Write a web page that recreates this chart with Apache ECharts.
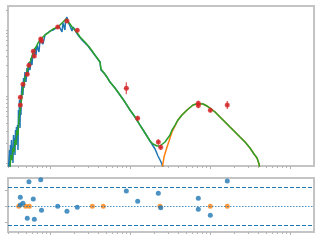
<!DOCTYPE html>
<html><head><meta charset="utf-8">
<script src="https://cdn.jsdelivr.net/npm/echarts@6/dist/echarts.min.js"></script>
<style>html,body{margin:0;padding:0;background:#fff}#c{width:320px;height:240px}</style>
</head><body><div id="c"></div>
<script>
// log10(wavelength / micron) and log10(flux) values
const starLogWave = [-1.519,-1.506,-1.5,-1.494,-1.488,-1.481,-1.475,-1.469,-1.463,-1.456,
-1.45,-1.444,-1.438,-1.431,-1.425,-1.419,-1.413,-1.406,-1.4,-1.394,
-1.388,-1.381,-1.375,-1.369,-1.363,-1.356,-1.35,-1.338,-1.331,-1.325,
-1.313,-1.3,-1.288,-1.275,-1.263,-1.25,-1.238,-1.225,-1.213,-1.2,
-1.188,-1.175,-1.163,-1.15,-1.138,-1.125,-1.1,-1.088,-1.063,-1.038,
-1.0,-0.963,-0.925,-0.888,-0.863,-0.85,-0.838,-0.825,-0.813,-0.806,
-0.8,-0.788,-0.775,-0.763,-0.75,-0.738,-0.725,-0.713,-0.688,-0.65,
-0.625,-0.6,-0.563,-0.525,-0.488,-0.45,-0.413,-0.375,-0.363,-0.325,
-0.288,-0.25,-0.188,-0.125,-0.063,0,0.063,0.125,0.188,0.25,
0.313,0.35,0.388,0.413];
const starLogFlux = [-13.075,-12.805,-13.075,-12.729,-12.955,-12.654,-12.925,-12.805,-13.0,-12.579,
-12.805,-12.624,-12.880,-12.504,-12.729,-12.459,-12.654,-12.429,-12.805,-12.203,
-12.429,-12.053,-12.474,-12.023,-12.278,-11.932,-11.827,-11.977,-11.722,-11.872,
-11.632,-11.782,-11.571,-11.677,-11.481,-11.602,-11.421,-11.526,-11.331,-11.421,
-11.271,-11.376,-11.226,-11.241,-11.331,-11.150,-11.120,-11.211,-11.075,-11.060,
-11.015,-11.0,-10.970,-10.940,-10.910,-11.030,-10.895,-10.880,-11.0,-10.850,
-10.820,-10.805,-10.880,-10.865,-10.940,-10.910,-11.015,-10.955,-11.0,-11.075,
-11.105,-11.150,-11.195,-11.241,-11.301,-11.361,-11.421,-11.481,-11.602,-11.647,
-11.707,-11.782,-11.872,-11.977,-12.083,-12.203,-12.308,-12.429,-12.549,-12.669,
-12.789,-12.895,-12.985,-13.060];

const dustLogWave = [0.4,0.413,0.425,0.444,0.463,0.488,0.525,0.563,0.6,0.65,0.713,0.788,0.85,0.913,0.963,1.0,1.063,1.125,1.188,1.25,1.313,1.375,1.438,1.5,1.55,1.588,1.613,1.625];
const dustLogFlux = [-13.105,-13.0,-12.910,-12.835,-12.759,-12.669,-12.534,-12.444,-12.353,-12.278,-12.203,-12.128,-12.105,-12.113,-12.143,-12.173,-12.233,-12.308,-12.383,-12.459,-12.534,-12.609,-12.684,-12.774,-12.865,-12.925,-13.015,-13.105];

const totalLogWave = [-1.5,-1.488,-1.475,-1.463,-1.45,-1.438,-1.425,-1.413,-1.4,-1.388,
-1.375,-1.363,-1.35,-1.338,-1.325,-1.313,-1.3,-1.288,-1.275,-1.263,
-1.25,-1.238,-1.225,-1.213,-1.2,-1.175,-1.15,-1.125,-1.1,-1.063,
-1.025,-1.0,-0.963,-0.925,-0.888,-0.85,-0.825,-0.8,-0.788,-0.775,
-0.75,-0.725,-0.688,-0.65,-0.625,-0.563,-0.5,-0.438,-0.375,-0.363,
-0.325,-0.288,-0.25,-0.188,-0.125,-0.063,0,0.063,0.125,0.188,
0.25,0.288,0.338,0.375,0.4,0.438,0.463,0.5,0.525,0.563,
0.6,0.65,0.713,0.788,0.85,0.913,0.963,1.0,1.063,1.125,
1.188,1.25,1.313,1.375,1.438,1.5,1.55,1.588,1.613,1.625];
const totalLogFlux = [-13.075,-12.880,-12.955,-12.774,-12.835,-12.654,-12.729,-12.504,-12.579,-12.323,
-12.233,-12.113,-11.977,-11.872,-11.812,-11.722,-11.692,-11.632,-11.571,-11.511,
-11.481,-11.451,-11.391,-11.361,-11.301,-11.256,-11.195,-11.150,-11.120,-11.075,
-11.045,-11.015,-10.985,-10.970,-10.940,-10.895,-10.865,-10.835,-10.820,-10.865,
-10.910,-10.955,-11.0,-11.060,-11.105,-11.180,-11.271,-11.376,-11.481,-11.586,
-11.647,-11.707,-11.782,-11.872,-11.977,-12.083,-12.203,-12.308,-12.429,-12.549,
-12.669,-12.714,-12.744,-12.744,-12.729,-12.684,-12.654,-12.579,-12.504,-12.429,
-12.353,-12.278,-12.203,-12.128,-12.105,-12.113,-12.143,-12.173,-12.233,-12.308,
-12.383,-12.459,-12.534,-12.609,-12.684,-12.774,-12.865,-12.925,-13.015,-13.105];

const photLogWave = [-1.371,-1.371,-1.338,-1.284,-1.263,-1.209,-1.196,-1.116,-1.106,-0.904,-0.788,-0.659,-0.046,0.096,0.354,0.384,0.854,0.854,1.004,1.216];
const photLogFlux = [-12.012,-12.128,-11.817,-11.666,-11.531,-11.320,-11.391,-11.135,-11.165,-10.955,-10.865,-11.005,-11.877,-12.328,-12.684,-12.764,-12.102,-12.135,-12.208,-12.128];
const photWaveErr = [0.02,0.02,0.02,0.02,0.02,0.02,0.02,0.02,0.02,0.02,0.02,0.02,0.03,0.02,0.02,0.02,0.02,0.02,0.02,0.02];
const photFluxErr = [0.03,0.03,0.03,0.03,0.03,0.03,0.03,0.03,0.03,0.03,0.03,0.03,0.09,0.04,0.04,0.04,0.04,0.04,0.03,0.06];

const residual = [0.56,0.08,0.19,-0.75,1.52,0.44,-0.81,1.64,-0.25,0.0,-0.31,-0.06,0.94,0.31,0.81,-0.09,0.5,-0.19,-0.56,1.56];
const modelPtLogWave = [-1.391,-1.304,-1.259,-0.471,-0.334,0.375,1.004,1.216];
const modelPtResid = [0,0,0,0,0,0,0,0];
const residBand = 1.2;

const X_MIN=-1.525, X_MAX=2.3, Y_MIN=-13.045, Y_MAX=-10.639, R_MIN=-1.6, R_MAX=1.75;

const zip=(a,b)=>a.map((v,i)=>[v,b[i]]);
function minors(lo,hi,d0,d1){const o=[];for(let d=d0;d<=d1;d++)for(let k=2;k<=9;k++){const v=d+Math.log10(k);if(v>lo&&v<hi)o.push(v);}return o;}
const xMajor=[-1,0,1,2], xMinor=minors(X_MIN,X_MAX,-2,2);
const yTicks=[-13,-12,-11].concat(minors(Y_MIN,Y_MAX,-14,-11));
const rMajor=[-1,0,1];

const tickCol='#b4b4b4';
function ax(grid,min,max,pos,vals,len){
  return {type:'value',gridIndex:grid,min:min,max:max,position:pos,
    axisLine:{show:false,onZero:false},splitLine:{show:false},axisLabel:{show:false},
    axisTick:{show:true,inside:false,length:len,customValues:vals,lineStyle:{color:tickCol,width:1}}};
}
const red='#d62728';
const chart=echarts.init(document.getElementById('c'),null,{renderer:'canvas'});
chart.setOption({
  animation:false,
  grid:[
    {left:8,top:6,width:306,height:160,show:true,borderColor:'#c4c4c4',borderWidth:2},
    {left:8,top:178,width:306,height:54,show:true,borderColor:'#c4c4c4',borderWidth:2}
  ],
  xAxis:[ax(0,X_MIN,X_MAX,'bottom',xMajor,3),ax(0,X_MIN,X_MAX,'bottom',xMinor,2),
         ax(1,X_MIN,X_MAX,'bottom',xMajor,3),ax(1,X_MIN,X_MAX,'bottom',xMinor,2)],
  yAxis:[ax(0,Y_MIN,Y_MAX,'left',yTicks,2),
         ax(1,R_MIN,R_MAX,'left',rMajor,3)],
  series:[
    {type:'line',xAxisIndex:0,yAxisIndex:0,data:zip(starLogWave,starLogFlux),showSymbol:false,
      lineStyle:{color:'#1f77b4',width:1.5},clip:true,z:2},
    {type:'line',xAxisIndex:0,yAxisIndex:0,data:zip(dustLogWave,dustLogFlux),showSymbol:false,
      lineStyle:{color:'#ff7f0e',width:1.5},clip:true,z:3},
    {type:'line',xAxisIndex:0,yAxisIndex:0,data:zip(totalLogWave,totalLogFlux),showSymbol:false,
      lineStyle:{color:'#2ca02c',width:1.5},clip:true,z:4},
    {type:'custom',xAxisIndex:0,yAxisIndex:0,z:5,
      data:photLogWave.map((x,i)=>[x,photLogFlux[i],photWaveErr[i],photFluxErr[i]]),
      encode:{x:0,y:1},
      renderItem:function(p,api){
        const x=api.value(0),y=api.value(1),ex=api.value(2),ey=api.value(3);
        const a=api.coord([x-ex,y]),b=api.coord([x+ex,y]),c=api.coord([x,y-ey]),d=api.coord([x,y+ey]);
        return {type:'group',children:[
          {type:'line',shape:{x1:a[0],y1:a[1],x2:b[0],y2:b[1]},style:{stroke:red,lineWidth:1.2,opacity:0.8}},
          {type:'line',shape:{x1:c[0],y1:c[1],x2:d[0],y2:d[1]},style:{stroke:red,lineWidth:1.2,opacity:0.8}}]};
      }},
    {type:'scatter',xAxisIndex:0,yAxisIndex:0,z:6,data:zip(photLogWave,photLogFlux),
      symbolSize:5,itemStyle:{color:red}},
    {type:'scatter',xAxisIndex:2,yAxisIndex:1,z:3,data:zip(modelPtLogWave,modelPtResid),
      symbolSize:5,itemStyle:{color:'#ff7f0e'},
      markLine:{silent:true,symbol:'none',label:{show:false},
        data:[{yAxis:residBand,lineStyle:{type:[4,2],color:'#1f77b4',width:1}},
              {yAxis:-residBand,lineStyle:{type:[4,2],color:'#1f77b4',width:1}},
              {yAxis:0,lineStyle:{type:[1.5,1.5],color:'#1f77b4',width:1,opacity:0.8}}]}},
    {type:'scatter',xAxisIndex:2,yAxisIndex:1,z:4,data:zip(photLogWave,residual),
      symbolSize:5,itemStyle:{color:'#1f77b4'}}
  ]
});
</script></body></html>
